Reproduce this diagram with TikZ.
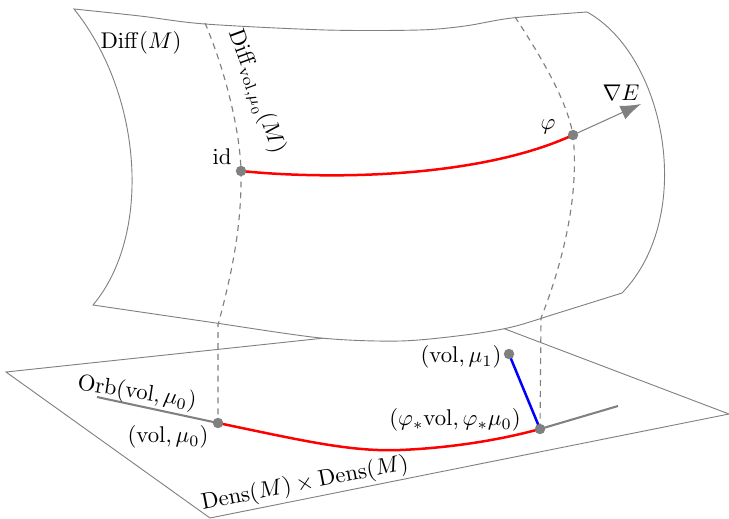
\documentclass[tikz,border=0pt]{standalone}
\usetikzlibrary{arrows.meta,backgrounds}
\begin{document}
\begin{tikzpicture}[x=0.44pt,y=-0.44pt,
  edge/.style={draw=gray, line width=0.4pt},
  surf/.style={edge, fill=white},
  fiber/.style={gray, dash pattern=on 2.6pt off 2.2pt, line width=0.5pt},
  geod/.style={red, line width=1.1pt},
  orb/.style={gray, line width=0.9pt},
  dot/.style={circle, fill=gray, inner sep=0pt, minimum size=4.6pt},
  lbl/.style={inner sep=0pt}]
\useasboundingbox (0,0) rectangle (729,518);
% points
\node[dot] (id) at (241,171) {};
\node[dot] (phi) at (573,135) {};
\node[dot] (v0) at (218,423) {};
\node[dot] (pv) at (540,429) {};
\node[dot] (v1) at (509,354) {};
% labels
\node[lbl] (lDiff) at (141,43) {$\mathrm{Diff}(M)$};
\node[lbl, rotate=-70] (lDiffvol) at (256,92) {$\mathrm{Diff}_{\mathrm{vol},\mu_0}(M)$};
\node[lbl] (lid) at (222,157) {$\mathrm{id}$};
\node[lbl] (lphi) at (548,127) {$\varphi$};
\node[lbl] (lgrad) at (621,93) {$\nabla E$};
\node[lbl, rotate=-9] (lorb) at (137,393) {$\mathrm{Orb}(\mathrm{vol},\mu_0)$};
\node[lbl] (lv0) at (168,437) {$(\mathrm{vol},\mu_0)$};
\node[lbl] (lpv) at (455,420) {$(\varphi_*\mathrm{vol},\varphi_*\mu_0)$};
\node[lbl] (lv1) at (461,357) {$(\mathrm{vol},\mu_1)$};
\node[lbl, rotate=11] (ldens) at (305,484) {$\mathrm{Dens}(M)\times\mathrm{Dens}(M)$};
% free ends
\coordinate (ltop) at (205,23);
\coordinate (lkink) at (218,325);
\coordinate (rtop) at (515,17);
\coordinate (rkink) at (541,318);
\coordinate (oL) at (97,397);
\coordinate (oR) at (618,406);
\coordinate (gtip) at (641,104);
\begin{pgfonlayer}{background}
\fill[white] (0,0) rectangle (729,518);
% plane
\draw[edge] (6,372) -- (484,321) -- (729,414) -- (210,518) -- cycle;
% surface
\path[surf] plot[smooth] coordinates {(74,9) (140,16) (205,24) (326,30) (419,30) (465,26) (512,18) (587,12)}
  .. controls (665,55) and (697,215) .. (622,293)
  -- plot[smooth] coordinates {(622,293) (558,313) (512,327) (465,335) (400,341) (321,338) (209,322) (93,305)}
  .. controls (152,235) and (143,95) .. (74,9) -- cycle;
% fibers
\draw[fiber] (ltop) .. controls (225,70) and (240,130) .. (id.center)
  .. controls (242,230) and (230,280) .. (lkink) -- (v0.center);
\draw[fiber] (rtop) .. controls (540,55) and (567,100) .. (phi.center)
  .. controls (580,200) and (560,270) .. (rkink) -- (pv.center);
% geodesics
\draw[geod] (id.center) .. controls (330,180) and (480,178) .. (phi.center);
\draw[geod] (v0.center) .. controls (300,440) and (350,452) .. (400,450)
  .. controls (450,448) and (500,440) .. (pv.center);
% orbit
\draw[orb] (oL) -- (v0.center);
\draw[orb] (pv.center) -- (oR);
\draw[blue, line width=1.1pt] (v1.center) -- (pv.center);
% gradient
\draw[gray, line width=0.45pt, -{Latex[length=9pt,width=6.5pt]}] (phi.center) -- (gtip);
\end{pgfonlayer}
\end{tikzpicture}
\end{document}
